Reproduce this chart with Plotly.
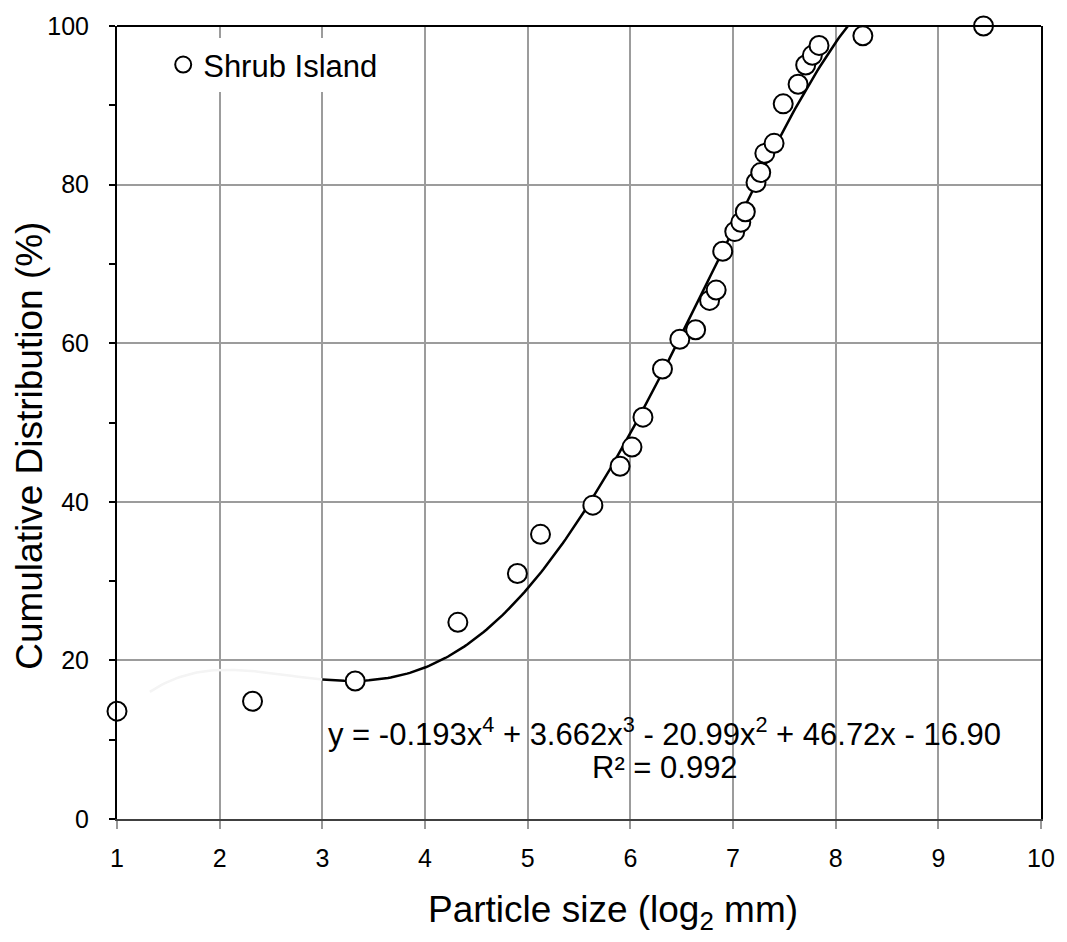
import numpy as np
import plotly.graph_objects as go

# ---- data ----
size_log2 = [1.00, 2.32, 3.32, 4.32, 4.90, 5.125, 5.635, 5.90, 6.016, 6.123,
             6.313, 6.482, 6.636, 6.772, 6.836, 6.90, 7.017, 7.076, 7.12, 7.224,
             7.27, 7.31, 7.40, 7.489, 7.634, 7.708, 7.773, 7.838, 8.265, 9.44]
cum_pct = [13.6, 14.85, 17.4, 24.8, 30.96, 35.9, 39.58, 44.48, 46.9, 50.67,
           56.75, 60.5, 61.7, 65.4, 66.7, 71.6, 74.07, 75.24, 76.58, 80.26,
           81.52, 83.94, 85.2, 90.18, 92.65, 95.08, 96.3, 97.55, 98.76, 100.0]

# 4th-order polynomial trendline printed on the chart
fit_coeffs = [-0.193, 3.662, -20.99, 46.72, -16.90]
fit_faint_range = [1.32, 3.0]
fit_main_range = [3.0, 8.3]

x_ticks = [1, 2, 3, 4, 5, 6, 7, 8, 9, 10]
y_ticks = [0, 20, 40, 60, 80, 100]

series_name = "Shrub Island"
eq_line1 = "y = -0.193x<sup>4</sup> + 3.662x<sup>3</sup> - 20.99x<sup>2</sup> + 46.72x - 16.90"
eq_line2 = "R² = 0.992"
x_title = "Particle size (log<sub>2</sub> mm)"
y_title = "Cumulative Distribution (%)"

FONT = "Liberation Sans, Arial, sans-serif"

xf = np.linspace(fit_faint_range[0], fit_faint_range[1], 60)
xm = np.linspace(fit_main_range[0], fit_main_range[1], 200)

fig = go.Figure()
fig.add_trace(go.Scatter(x=xf, y=np.polyval(fit_coeffs, xf), mode="lines",
                         line=dict(color="#f4f4f4", width=2.5), showlegend=False,
                         hoverinfo="skip"))
fig.add_trace(go.Scatter(x=xm, y=np.polyval(fit_coeffs, xm), mode="lines",
                         line=dict(color="black", width=2.5), showlegend=False,
                         hoverinfo="skip"))
fig.add_trace(go.Scatter(x=size_log2, y=cum_pct, mode="markers", name=series_name,
                         marker=dict(symbol="circle", size=19, color="white",
                                     line=dict(color="black", width=2)),
                         cliponaxis=False))

fig.update_layout(
    width=1067, height=942,
    margin=dict(l=117, r=22, t=23, b=123),
    paper_bgcolor="white", plot_bgcolor="white",
    font=dict(family=FONT, color="black"),
    showlegend=True,
    legend=dict(x=0.05, y=0.985, xanchor="left", yanchor="top",
                bgcolor="white", borderwidth=0,
                font=dict(size=31, family=FONT, color="black")),
)

fig.update_xaxes(
    range=[1, 10], tickvals=x_ticks, ticktext=[str(v) for v in x_ticks],
    showgrid=True, gridcolor="#9c9c9c", gridwidth=2,
    showline=True, linecolor="#404040", linewidth=2, mirror=False,
    ticks="outside", ticklen=8, tickcolor="#999999", tickwidth=1.5,
    tickfont=dict(size=25, family=FONT, color="black"),
    ticklabelstandoff=8,
    zeroline=False,
)
fig.update_yaxes(
    range=[0, 100], tickvals=y_ticks, ticktext=[str(v) for v in y_ticks],
    showgrid=True, gridcolor="#9c9c9c", gridwidth=2,
    showline=True, linecolor="black", linewidth=2, mirror=True,
    ticks="outside", ticklen=6, tickcolor="black", tickwidth=1.5,
    minor=dict(dtick=10, ticks="outside", ticklen=6, tickcolor="black",
               tickwidth=1.5, showgrid=False),
    tickfont=dict(size=25, family=FONT, color="black"),
    ticklabelstandoff=15,
    zeroline=False,
)

# top border of the plot frame
fig.add_shape(type="line", xref="paper", yref="paper", x0=0, x1=1, y0=1, y1=1,
              line=dict(color="black", width=2), layer="above")
# translucent box behind the trendline equation
fig.add_shape(type="rect", xref="paper", yref="paper",
              x0=0.2134, x1=0.973, y0=0.0405, y1=0.1435,
              fillcolor="rgba(255,255,255,0.75)", line=dict(width=0), layer="between")

fig.add_annotation(text=eq_line1, xref="paper", yref="paper", x=0.5927, y=0.1096,
                   xanchor="center", yanchor="middle", showarrow=False,
                   font=dict(size=31, family=FONT, color="black"))
fig.add_annotation(text=eq_line2, xref="paper", yref="paper", x=0.5927, y=0.0655,
                   xanchor="center", yanchor="middle", showarrow=False,
                   font=dict(size=31, family=FONT, color="black"))
fig.add_annotation(text=x_title, xref="paper", yref="paper", x=0.5366, y=-0.1176,
                   xanchor="center", yanchor="middle", showarrow=False,
                   font=dict(size=37, family=FONT, color="black"))
fig.add_annotation(text=y_title, xref="paper", yref="paper", x=-0.0948, y=0.4711,
                   xanchor="center", yanchor="middle", showarrow=False, textangle=-90,
                   font=dict(size=37, family=FONT, color="black"))

fig.write_html("out.html")
